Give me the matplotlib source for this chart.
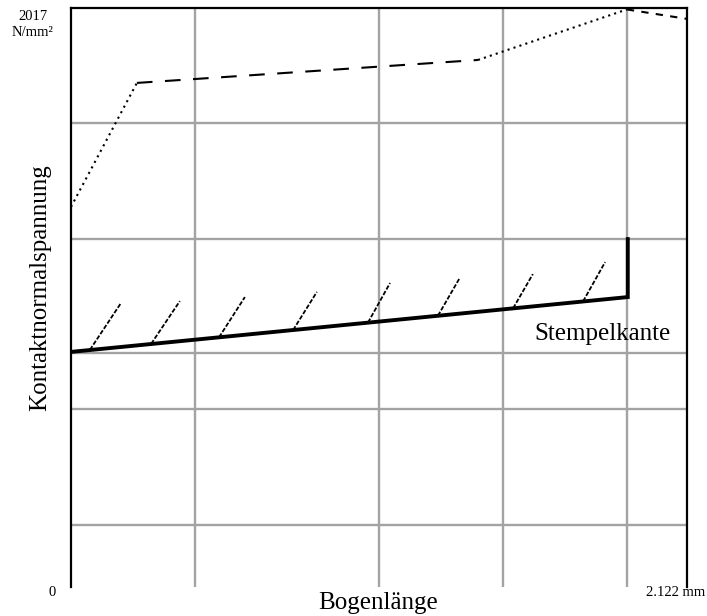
import matplotlib
matplotlib.use("Agg")
import matplotlib.pyplot as plt

plt.rcParams['font.family'] = ['Liberation Serif', 'DejaVu Serif']

# Bogenlänge in mm, Kontaktnormalspannung in N/mm^2
x_max = 2.122
p_max = 2017

# Gitterlinien
x_grid = [0.427, 1.061, 1.488, 1.915]
p_grid = [216, 620, 815, 1212, 1616]

# Obere Kurve, abschnittsweise mit wechselnder Linienart
upper_x = [0.0, 0.227, 1.402, 1.915, 2.122]
upper_p = [1324, 1756, 1836, 2012, 1979]
upper_styles = [(0, (1, 2)), (0, (7.5, 6)), (0, (1, 2)), (0, (3.5, 3.5))]

# Stempelkontur bis zur Stempelkante
punch_x = [0.0, 1.918, 1.918]
punch_p = [819, 1010, 1212]

# Schraffur am Stempel (Fußpunkt -> Spitze)
hatch_x0 = [0.065, 0.276, 0.510, 0.765, 1.023, 1.264, 1.523, 1.764]
hatch_p0 = [826, 847, 870, 895, 921, 945, 971, 995]
hatch_x1 = [0.172, 0.375, 0.599, 0.847, 1.099, 1.337, 1.591, 1.840]
hatch_p1 = [989, 996, 1010, 1028, 1059, 1073, 1090, 1132]

W, H = 707, 616
fig = plt.figure(figsize=(W / 100, H / 100), dpi=100)
ax = fig.add_axes([71 / W, 1 - 587 / H, 616 / W, 579 / H])
ax.set_xlim(0, x_max)
ax.set_ylim(0, p_max)

ax.set_xticks(x_grid)
ax.set_yticks(p_grid)
ax.tick_params(length=0, labelbottom=False, labelleft=False)
ax.grid(True, color='#a3a3a3', linewidth=1.7)
ax.set_axisbelow(True)

for side in ['left', 'top', 'right']:
    ax.spines[side].set_color('black')
    ax.spines[side].set_linewidth(1.6)
ax.spines['bottom'].set_visible(False)

for i, ls in enumerate(upper_styles):
    ax.plot(upper_x[i:i + 2], upper_p[i:i + 2], color='black',
            linewidth=1.5, linestyle=ls, clip_on=False)

ax.plot(punch_x, punch_p, color='black', linewidth=2.8,
        solid_joinstyle='miter', zorder=4)

for xa, pa, xb, pb in zip(hatch_x0, hatch_p0, hatch_x1, hatch_p1):
    ax.plot([xa, xb], [pa, pb], color='black', linewidth=1.3,
            linestyle=(0, (2.5, 1)), zorder=3)


def px_text(x, y, s, **kw):
    fig.text(x / W, 1 - y / H, s, **kw)


px_text(33, 17, '2017', fontsize=10.5, ha='center', va='center')
px_text(33, 32, 'N/mm²', fontsize=10.5, ha='center', va='center')
px_text(52, 592, '0', fontsize=10.5, ha='center', va='center')
px_text(676, 592, '2.122 mm', fontsize=10.5, ha='center', va='center')
px_text(378, 603, 'Bogenlänge', fontsize=18, ha='center', va='center')
px_text(40, 288, 'Kontaktnormalspannung', fontsize=18, rotation=90,
        ha='center', va='center')
px_text(603, 340, 'Stempelkante', fontsize=18, ha='center', va='baseline')

fig.savefig('out.png', dpi=100)
